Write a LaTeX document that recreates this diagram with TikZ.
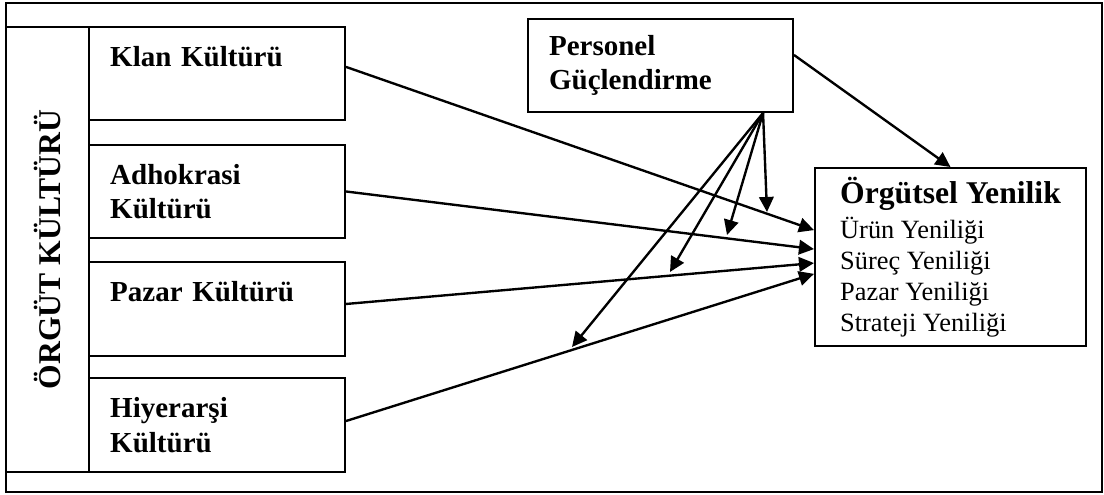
\documentclass[tikz,border=0pt]{standalone}
\usepackage{fontspec}
\setmainfont{Liberation Serif}
\usetikzlibrary{arrows.meta, positioning}

\begin{document}
\begin{tikzpicture}[
    x=0.3793pt, y=-0.3793pt,
    kbox/.style={draw, line width=0.75pt, minimum width=97.1pt, minimum height=35.3pt, text width=81pt, inner xsep=8pt, align=left, font=\fontsize{11}{13}\selectfont\bfseries},
    side/.style={draw, line width=0.75pt, rotate=90, minimum width=168.8pt, minimum height=31.5pt, font=\fontsize{12}{14}\selectfont\bfseries},
    pbox/.style={kbox, minimum width=100.5pt, text width=84.5pt},
    obox/.style={draw, line width=0.75pt, minimum width=102.8pt, minimum height=67.5pt, align=left, font=\fontsize{10}{11.8}\selectfont},
    arr/.style={-{Triangle[length=5.7pt, width=5.5pt]}, line width=0.9pt},
  ]
  \useasboundingbox (0,0) rectangle (1104,495);
  \draw[line width=0.75pt] (6,3) rectangle (1102,492);

  \node[side] (orgk) at (47.5,249.5) {ÖRGÜT KÜLTÜRÜ};
  \node[kbox] (klan) at (217,73.5) {Klan Kültürü\\\mbox{}};
  \node[kbox] (adho) at (217,191.5) {Adhokrasi\\Kültürü};
  \node[kbox] (pazar) at (217,309) {Pazar Kültürü\\\mbox{}};
  \node[kbox] (hiy) at (217,425) {Hiyerarşi\\Kültürü};

  \node[pbox] (pers) at (660.5,65.5) {Personel\\Güçlendirme};
  \node[obox] (org) at (950.5,257) {{\fontsize{12}{14}\selectfont\bfseries Örgütsel Yenilik}\\[1.5pt]
    Ürün Yeniliği\\Süreç Yeniliği\\Pazar Yeniliği\\Strateji Yeniliği};

  \coordinate (fan) at ([xshift=38.9pt]pers.south);
  \coordinate (e1) at (767,212);
  \coordinate (e2) at (727,235);
  \coordinate (e3) at (670,272);
  \coordinate (e4) at (572,347);

  \draw[arr] ([yshift=2.5pt]klan.east) -- ([yshift=10.2pt]org.west);
  \draw[arr] (adho.east) -- ([yshift=3pt]org.west);
  \draw[arr] ([yshift=1.9pt]pazar.east) -- ([yshift=-2.3pt]org.west);
  \draw[arr] ([yshift=1.5pt]hiy.east) -- ([yshift=-6.4pt]org.west);
  \draw[arr] ([yshift=4pt]pers.east) -- (org.north);
  \foreach \e in {e1,e2,e3,e4}
    \draw[arr] (fan) -- (\e);
\end{tikzpicture}
\end{document}
